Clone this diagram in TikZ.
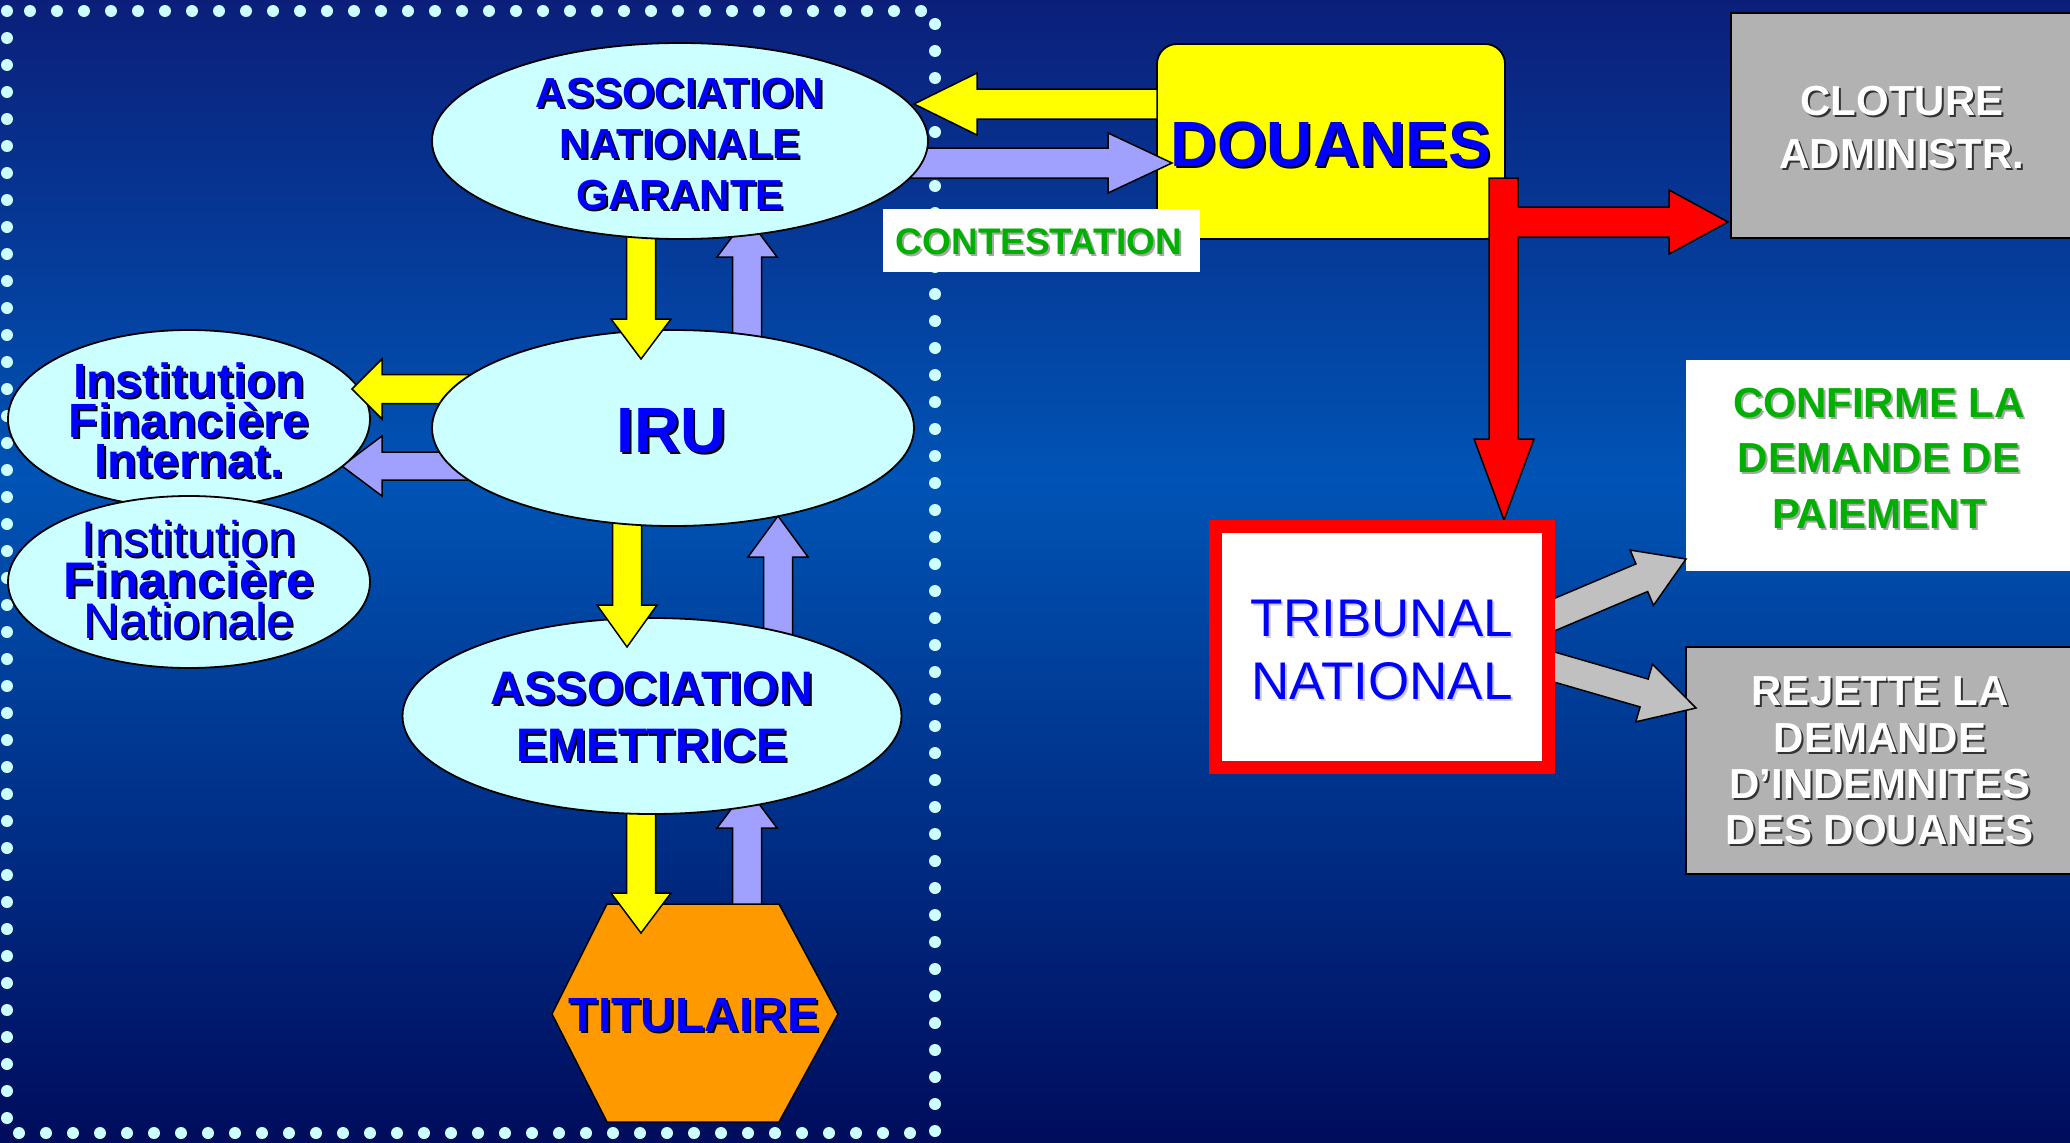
\documentclass[tikz,border=0pt]{standalone}
\usepackage{fontspec}
\setmainfont{Liberation Sans}
\usetikzlibrary{calc,shapes.geometric}
\definecolor{cy}{HTML}{CCFFFF}
\definecolor{bl}{HTML}{0000FF}
\definecolor{lav}{HTML}{A0A0FF}
\definecolor{yel}{HTML}{FFFF00}
\definecolor{org}{HTML}{FF9900}
\definecolor{gbox}{HTML}{B2B2B2}
\definecolor{garr}{HTML}{C0C0C0}
\definecolor{grn}{HTML}{00B000}
\definecolor{bgtop}{HTML}{0B1F7A}
\definecolor{bgmid}{HTML}{0054B5}
\definecolor{bgbot}{HTML}{000C5C}
\newcommand\shcol{black}
\newcommand\sh[1]{\leavevmode\rlap{\kern2pt\raisebox{-2pt}{\textcolor{\shcol}{#1}}}#1}
% block arrow: style, start, tip, shaft half width, head half width, head length
\newcommand\barrow[6]{%
  \draw[#1] ($(#2)!#4!90:(#3)$) -- ($(#3)!#6!(#2)!#4!-90:(#2)$) -- ($(#3)!#6!(#2)!#5!-90:(#2)$)
   -- (#3) -- ($(#3)!#6!(#2)!#5!90:(#2)$) -- ($(#3)!#6!(#2)!#4!90:(#2)$) -- ($(#2)!#4!-90:(#3)$) -- cycle;}
\begin{document}
\begin{tikzpicture}[x=1pt,y=-1pt,
  ell/.style={ellipse, draw=black, line width=1.8pt, fill=cy, inner sep=0pt},
  btxt/.style={align=center, text=bl, inner sep=0pt},
  yarr/.style={fill=yel, draw=black, line width=1.5pt, line join=miter},
  larr/.style={fill=lav, draw=black, line width=1.5pt, line join=miter},
  garrow/.style={fill=garr, draw=black, line width=1.5pt, line join=miter},
  rarr/.style={fill=red, draw=black, line width=1.5pt, line join=miter},
  gboxst/.style={rectangle, fill=gbox, draw=black, line width=1.8pt, inner sep=0pt},
  wtxt/.style={align=center, text=white, inner sep=0pt},
  gtxt/.style={align=center, text=grn, inner sep=0pt}]
\useasboundingbox (0,0) rectangle (2070,1143);
% background
\shade[top color=bgtop, bottom color=bgmid] (0,0) rectangle (2070,480);
\shade[top color=bgmid, bottom color=bgbot] (0,479) rectangle (2070,1143);
% dotted frame
\draw[cy, line width=12pt, line cap=round, dash pattern=on 0pt off 27pt] (7,11) rectangle (935,1133);

% coordinates of arrow ends
\coordinate (l1a) at (747,930);  \coordinate (l1b) at (747,788);
\coordinate (l2a) at (778,680);  \coordinate (l2b) at (778,516);
\coordinate (l3a) at (747,400);  \coordinate (l3b) at (747,217);
\coordinate (l4a) at (500,466);  \coordinate (l4b) at (342,466);
\coordinate (y1a) at (500,389);  \coordinate (y1b) at (352,389);
\coordinate (y2a) at (641,780);  \coordinate (y2b) at (641,933);
\coordinate (y3a) at (627,490);  \coordinate (y3b) at (627,647);
\coordinate (y4a) at (641,200);  \coordinate (y4b) at (641,359);
\coordinate (y5a) at (1157,104); \coordinate (y5b) at (914,104);
\coordinate (l5a) at (880,163);  \coordinate (l5b) at (1172,163);
\coordinate (g1a) at (1530,625); \coordinate (g1b) at (1686,559);
\coordinate (g2a) at (1530,660); \coordinate (g2b) at (1696,708);

% lavender arrows (under the ellipses)
\barrow{larr}{l1a}{l1b}{14.5pt}{30pt}{40pt}
\barrow{larr}{l2a}{l2b}{14.5pt}{30pt}{41pt}
\barrow{larr}{l3a}{l3b}{14.5pt}{30pt}{40pt}
\barrow{larr}{l4a}{l4b}{14pt}{30pt}{40pt}

% financial institutions
\node[ell, minimum width=362pt, minimum height=178pt] (ifi) at (189,419) {};
\node[ell, minimum width=362pt, minimum height=172pt] (ifn) at (189,582) {};
\node[btxt, font=\fontsize{48}{40}\selectfont\bfseries] at (189,421) {\sh{Institution}\\\sh{Financière}\\\sh{Internat.}};
\node[btxt, font=\fontsize{50}{41}\selectfont] at (189,581) {\sh{Institution}\\\sh{\bfseries Financière}\\\sh{Nationale}};
\barrow{yarr}{y1a}{y1b}{14.5pt}{30pt}{30pt}

% titulaire
\draw[fill=org, draw=black, line width=1.5pt] (552,1014) -- (607,904) -- (779,904) -- (838,1014) -- (779,1122) -- (607,1122) -- cycle;
\node[btxt, font=\fontsize{48}{52}\selectfont\bfseries] (tit) at (694,1016) {\sh{TITULAIRE}};
\barrow{yarr}{y2a}{y2b}{14.5pt}{30pt}{40pt}

% association emettrice
\node[ell, minimum width=499pt, minimum height=196pt] (ae) at (652,716) {};
\node[btxt, font=\fontsize{47}{57}\selectfont\bfseries] at (652,718) {\sh{ASSOCIATION}\\\sh{EMETTRICE}};
\barrow{yarr}{y3a}{y3b}{14.5pt}{30pt}{42pt}

% IRU
\node[ell, minimum width=482pt, minimum height=196pt] (iru) at (673,428) {};
\node[btxt, font=\fontsize{64}{70}\selectfont\bfseries] at (672,432) {\sh{IRU}};
\barrow{yarr}{y4a}{y4b}{14.5pt}{30pt}{40pt}

% douanes
\node[rectangle, rounded corners=20pt, fill=yel, draw=black, line width=1.8pt, minimum width=348pt, minimum height=195pt, inner sep=0pt] (dou) at (1331,141.5) {};
\node[btxt, font=\fontsize{64}{70}\selectfont\bfseries] at (1331,145) {\sh{DOUANES}};
\barrow{larr}{l5a}{l5b}{15pt}{30pt}{64pt}
\barrow{yarr}{y5a}{y5b}{15pt}{31pt}{63pt}

% association nationale garante
\node[ell, minimum width=496pt, minimum height=196pt] (ang) at (680,141) {};
\node[btxt, font=\fontsize{42}{51}\selectfont\bfseries] at (680,145) {\sh{ASSOCIATION}\\\sh{NATIONALE}\\\sh{GARANTE}};

% red T arrow from douanes
\draw[rarr] (1489,178) -- (1518,178) -- (1518,207) -- (1669,207) -- (1669,190) -- (1728,222) -- (1669,254) -- (1669,237) -- (1518,237) -- (1518,439) -- (1534,439) -- (1504,520) -- (1474,439) -- (1489,439) -- cycle;

% contestation label
\node[rectangle, fill=white, minimum width=317pt, minimum height=63pt, inner sep=0pt] (cont) at (1041.5,240.5) {};
\node[gtxt, font=\fontsize{37}{40}\selectfont\bfseries\renewcommand\shcol{black!35}] at (1039,243) {\sh{CONTESTATION}};

% cloture
\node[gboxst, minimum width=342pt, minimum height=225pt] (clo) at (1902,125.5) {};
\node[wtxt, font=\fontsize{42}{53}\selectfont\bfseries\renewcommand\shcol{black!80}] at (1902,129) {\sh{CLOTURE}\\\sh{ADMINISTR.}};

% confirme
\node[rectangle, fill=white, minimum width=386pt, minimum height=211pt, inner sep=0pt] (conf) at (1879,465.5) {};
\node[gtxt, font=\fontsize{42}{55.5}\selectfont\bfseries\renewcommand\shcol{black!35}] at (1879,459) {\sh{CONFIRME LA}\\\sh{DEMANDE DE}\\\sh{PAIEMENT}};

% rejette
\node[gboxst, minimum width=386pt, minimum height=227pt] (rej) at (1879,760.5) {};
\node[wtxt, font=\fontsize{42}{46.3}\selectfont\bfseries\renewcommand\shcol{black!80}] at (1880,762) {\sh{REJETTE LA}\\\sh{DEMANDE}\\\sh{D’INDEMNITES}\\\sh{DES DOUANES}};

% grey arrows
\barrow{garrow}{g1a}{g1b}{15pt}{30pt}{48pt}
\barrow{garrow}{g2a}{g2b}{14.5pt}{30pt}{54pt}

% tribunal
\node[rectangle, fill=white, draw=red, line width=13pt, minimum width=333pt, minimum height=241pt, inner sep=0pt] (trib) at (1382,647) {};
\node[btxt, font=\fontsize{53}{63}\selectfont\renewcommand\shcol{black!20}] at (1382,651) {\sh{TRIBUNAL}\\\sh{NATIONAL}};
\end{tikzpicture}
\end{document}
